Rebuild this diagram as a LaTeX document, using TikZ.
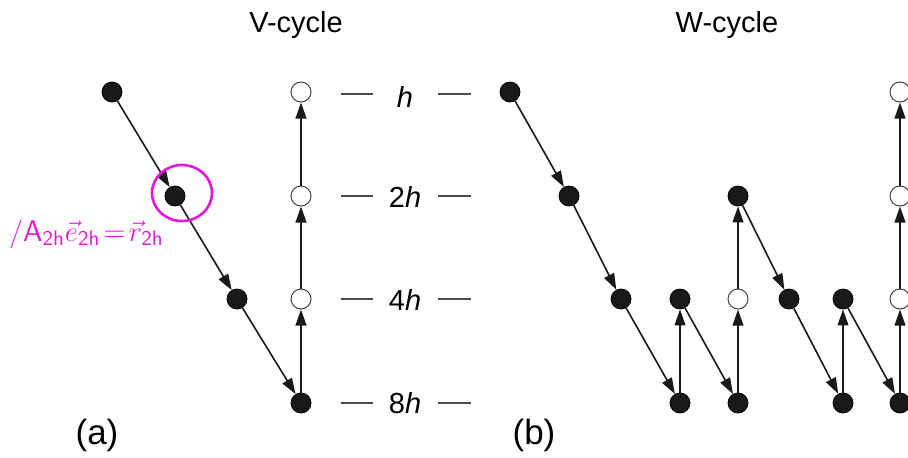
\documentclass[tikz,border=0pt]{standalone}
\usepackage{fontspec}
\setmainfont{Liberation Sans}
\usepackage{tikz}
\usetikzlibrary{arrows.meta, positioning}
\definecolor{pen}{RGB}{232,20,220}

\begin{document}
\begin{tikzpicture}[
    x=0.5pt, y=-0.5pt,
    >={Triangle[length=8pt, width=5.4pt]},
    every node/.style={font=\fontsize{14.5}{16}\selectfont},
    full/.style={circle, draw=black, fill=black!90, minimum size=10pt, inner sep=0pt},
    empty/.style={circle, draw=black!75, line width=0.5pt, fill=white, minimum size=10pt, inner sep=0pt},
    link/.style={->, line width=0.8pt, black!90},
    tick/.style={line width=0.8pt, black!70},
    tag/.style={font=\fontsize{17.5}{20}\selectfont}
  ]
  \useasboundingbox (0,0) rectangle (908,457);

  % titles
  \node (vtitle) at (296,25) {V-cycle};
  \node (wtitle) at (727,25) {W-cycle};
  \node[tag] (ta) at (97,435) {(a)};
  \node[tag] (tb) at (534,435) {(b)};

  % grid levels
  \node (lh) at (405,97) {\textit{h}};
  \node (l2h) at (405,197) {2\textit{h}};
  \node (l4h) at (405,300) {4\textit{h}};
  \node (l8h) at (405,403) {8\textit{h}};
  \draw[tick] (341,94) -- (373,94);   \draw[tick] (438,94) -- (471,94);
  \draw[tick] (341,196) -- (373,196); \draw[tick] (438,196) -- (471,196);
  \draw[tick] (341,299) -- (373,299); \draw[tick] (438,299) -- (471,299);
  \draw[tick] (341,403) -- (373,403); \draw[tick] (438,403) -- (471,403);

  % V-cycle
  \node[full] (v1) at (112,92) {};
  \node[full] (v2) at (175,196) {};
  \node[full] (v3) at (237,299) {};
  \node[full] (v4) at (301,403) {};
  \node[empty] (v5) at (301,299) {};
  \node[empty] (v6) at (301,196) {};
  \node[empty] (v7) at (301,92) {};

  \draw[link] (v1) -- (v2);
  \draw[link] (v2) -- (v3);
  \draw[link] (v3) -- (v4);
  \draw[link] (v4) -- (v5);
  \draw[link] (v5) -- (v6);
  \draw[link] (v6) -- (v7);

  % W-cycle
  \node[full] (w1) at (510,92) {};
  \node[full] (w2) at (569,196) {};
  \node[full] (w3) at (621,299) {};
  \node[full] (w4) at (680,403) {};
  \node[full] (w5) at (680,299) {};
  \node[full] (w6) at (738,403) {};
  \node[empty] (w7) at (738,299) {};
  \node[full] (w8) at (738,196) {};
  \node[full] (w9) at (789,299) {};
  \node[full] (w10) at (843,403) {};
  \node[full] (w11) at (843,299) {};
  \node[full] (w12) at (900,403) {};
  \node[empty] (w13) at (900,299) {};
  \node[empty] (w14) at (900,196) {};
  \node[empty] (w15) at (900,92) {};

  \draw[link] (w1) -- (w2);
  \draw[link] (w2) -- (w3);
  \draw[link] (w3) -- (w4);
  \draw[link] (w4) -- (w5);
  \draw[link] (w5) -- (w6);
  \draw[link] (w6) -- (w7);
  \draw[link] (w7) -- (w8);
  \draw[link] (w8) -- (w9);
  \draw[link] (w9) -- (w10);
  \draw[link] (w10) -- (w11);
  \draw[link] (w11) -- (w12);
  \draw[link] (w12) -- (w13);
  \draw[link] (w13) -- (w14);
  \draw[link] (w14) -- (w15);

  % handwritten note
  \draw[pen, line width=1.3pt] (v2) ++(7,-3) ellipse [x radius=30, y radius=28];
  \node[pen, font=\fontsize{15}{18}\selectfont, anchor=west] (note) at (2,234)
    {$/\mathsf{A}_{\mathsf{2h}}\vec{e}_{\mathsf{2h}}\!=\!\vec{r}_{\mathsf{2h}}$};
\end{tikzpicture}
\end{document}
